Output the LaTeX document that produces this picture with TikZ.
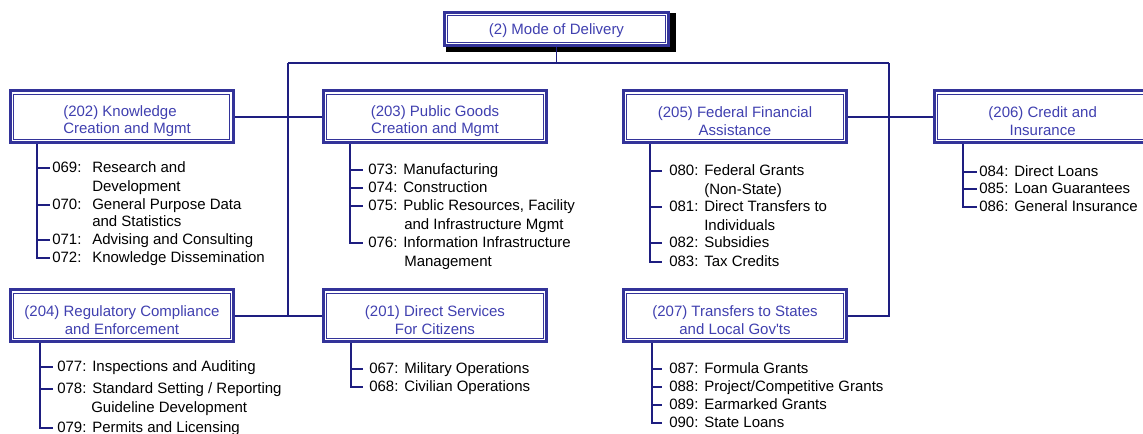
\documentclass[tikz,border=0pt]{standalone}
\usepackage{fontspec}
\setmainfont{Liberation Sans}
\usetikzlibrary{backgrounds}
\definecolor{boxblue}{RGB}{51,51,153}
\definecolor{txtblue}{RGB}{64,64,176}
\definecolor{lnblue}{RGB}{30,30,128}
\newcommand\nm[2][26.25pt]{\makebox[#1][l]{#2}}
\begin{document}
\begin{tikzpicture}[x=0.75pt,y=-0.75pt,
  font=\fontsize{11.25}{13.1}\selectfont,
  box/.style={draw=boxblue, line width=2.25pt, fill=white,
    minimum width=167.25pt, minimum height=39pt, inner sep=0pt,
    path picture={\draw[boxblue,line width=0.75pt]
      ([shift={(2.6pt,-2.6pt)}]path picture bounding box.north west) rectangle
      ([shift={(-2.6pt,2.6pt)}]path picture bounding box.south east);}},
  btxt/.style={align=center, text=txtblue, inner sep=0pt},
  item/.style={anchor=west, inner sep=0pt, text height=0.72em, text depth=0pt, text=black},
  ln/.style={draw=lnblue, line width=1.4pt}]
\useasboundingbox (0,0) rectangle (1143,434);
\clip (0,0) rectangle (1143,434);

% top box
\node[box, minimum width=168pt, minimum height=24.75pt] (T) at (556.5,29) {};
\node[btxt] (Tt) at ([yshift=-1.5pt]T.center) {(2) Mode of Delivery};
\begin{scope}[on background layer]
\fill[black] ([shift={(1.875pt,-1.875pt)}]T.north west) rectangle ([shift={(4.125pt,-4.125pt)}]T.south east);
\end{scope}

% category boxes
\node[box] (B202) at (121.5,117) {};
\node[box] (B203) at (435,117) {};
\node[box] (B205) at (735,117) {};
\node[box] (B206) at (1046,117) {};
\node[box] (B204) at (122,316) {};
\node[box] (B201) at (435,316) {};
\node[box] (B207) at (735,316) {};
\node[btxt, align=left, anchor=west] (L202) at ([yshift=-3pt]B202.center -| 63,0) {(202) Knowledge\\Creation and Mgmt};
\node[btxt] (L203) at ([yshift=-3pt]B203.center) {(203) Public Goods\\Creation and Mgmt};
\node[btxt] (L205) at ([yshift=-3pt]B205.center) {(205) Federal Financial\\Assistance};
\node[btxt] (L206) at ([yshift=-3pt,xshift=-2.5pt]B206.center) {(206) Credit and\\Insurance};
\node[btxt] (L204) at ([yshift=-3pt]B204.center) {(204) Regulatory Compliance\\and Enforcement};
\node[btxt] (L201) at ([yshift=-3pt]B201.center) {(201) Direct Services\\For Citizens};
\node[btxt] (L207) at ([yshift=-3pt]B207.center) {(207) Transfers to States\\and Local Gov\textquotesingle ts};

% bus
\coordinate (busL) at (288,63);
\coordinate (busR) at (889,63);
\coordinate (busM) at (T.south |- busL);
\draw[ln] (busL) -- (busR);
\draw[ln] (T.south) -- (busM);
\draw[ln] (busL) -- (busL |- B204.east);
\draw[ln] (B207.east) -| (busR);
\draw[ln] (B202.east) -- (B203.west);
\draw[ln] (B204.east) -- (B201.west);
\draw[ln] (B205.east) -- (B206.west);

% list 202
\node[item] (i069) at (52,168) {\nm[30pt]{069:}Research and};
\node[item] (i069c) at (92,187) {Development};
\node[item] (i070) at (52,205) {\nm[30pt]{070:}General Purpose Data};
\node[item] (i070c) at (92,222) {and Statistics};
\node[item] (i071) at (52,240) {\nm[30pt]{071:}Advising and Consulting};
\node[item] (i072) at (52,258) {\nm[30pt]{072:}Knowledge Dissemination};
\coordinate (t202) at (B202.south -| 37,0);
\draw[ln, shorten >=1.5pt] (t202) |- (i072.west);
\foreach \i in {i069,i070,i071} \draw[ln, shorten >=1.5pt] (t202 |- \i.west) -- (\i.west);

% list 203
\node[item] (i073) at (368,170) {\nm{073:}Manufacturing};
\node[item] (i074) at (368,188) {\nm{074:}Construction};
\node[item] (i075) at (368,206) {\nm{075:}Public Resources, Facility};
\node[item] (i075c) at (404,225) {and Infrastructure Mgmt};
\node[item] (i076) at (368,243) {\nm{076:}Information Infrastructure};
\node[item] (i076c) at (404,262) {Management};
\coordinate (t203) at (B203.south -| 350,0);
\draw[ln, shorten >=3.75pt] (t203) |- (i076.west);
\foreach \i in {i073,i074,i075} \draw[ln, shorten >=3.75pt] (t203 |- \i.west) -- (\i.west);

% list 205
\node[item] (i080) at (669,171) {\nm{080:}Federal Grants};
\node[item] (i080c) at (704,190) {(Non-State)};
\node[item] (i081) at (669,207) {\nm{081:}Direct Transfers to};
\node[item] (i081c) at (704,226) {Individuals};
\node[item] (i082) at (669,243) {\nm{082:}Subsidies};
\node[item] (i083) at (669,262) {\nm{083:}Tax Credits};
\coordinate (t205) at (B205.south -| 650,0);
\draw[ln, shorten >=5.25pt] (t205) |- (i083.west);
\foreach \i in {i080,i081,i082} \draw[ln, shorten >=5.25pt] (t205 |- \i.west) -- (\i.west);

% list 206
\node[item] (i084) at (979,172) {\nm{084:}Direct Loans};
\node[item] (i085) at (979,189) {\nm{085:}Loan Guarantees};
\node[item] (i086) at (979,207) {\nm{086:}General Insurance};
\coordinate (t206) at (B206.south -| 963,0);
\draw[ln, shorten >=1.5pt] (t206) |- (i086.west);
\foreach \i in {i084,i085} \draw[ln, shorten >=1.5pt] (t206 |- \i.west) -- (\i.west);

% list 204
\node[item] (i077) at (57,367) {\nm{077:}Inspections and Auditing};
\node[item] (i078) at (57,389) {\nm{078:}Standard Setting / Reporting};
\node[item] (i078c) at (91,408) {Guideline Development};
\node[item] (i079) at (57,428) {\nm{079:}Permits and Licensing};
\coordinate (t204) at (B204.south -| 40,0);
\draw[ln, shorten >=3pt] (t204) |- (i079.west);
\foreach \i in {i077,i078} \draw[ln, shorten >=3pt] (t204 |- \i.west) -- (\i.west);

% list 201
\node[item] (i067) at (369,369) {\nm{067:}Military Operations};
\node[item] (i068) at (369,387) {\nm{068:}Civilian Operations};
\coordinate (t201) at (B201.south -| 351,0);
\draw[ln, shorten >=4.5pt] (t201) |- (i068.west);
\draw[ln, shorten >=4.5pt] (t201 |- i067.west) -- (i067.west);

% list 207
\node[item] (i087) at (669,369) {\nm{087:}Formula Grants};
\node[item] (i088) at (669,387) {\nm{088:}Project/Competitive Grants};
\node[item] (i089) at (669,405) {\nm{089:}Earmarked Grants};
\node[item] (i090) at (669,423) {\nm{090:}State Loans};
\coordinate (t207) at (B207.south -| 652,0);
\draw[ln, shorten >=5.25pt] (t207) |- (i090.west);
\foreach \i in {i087,i088,i089} \draw[ln, shorten >=5.25pt] (t207 |- \i.west) -- (\i.west);
\end{tikzpicture}
\end{document}
